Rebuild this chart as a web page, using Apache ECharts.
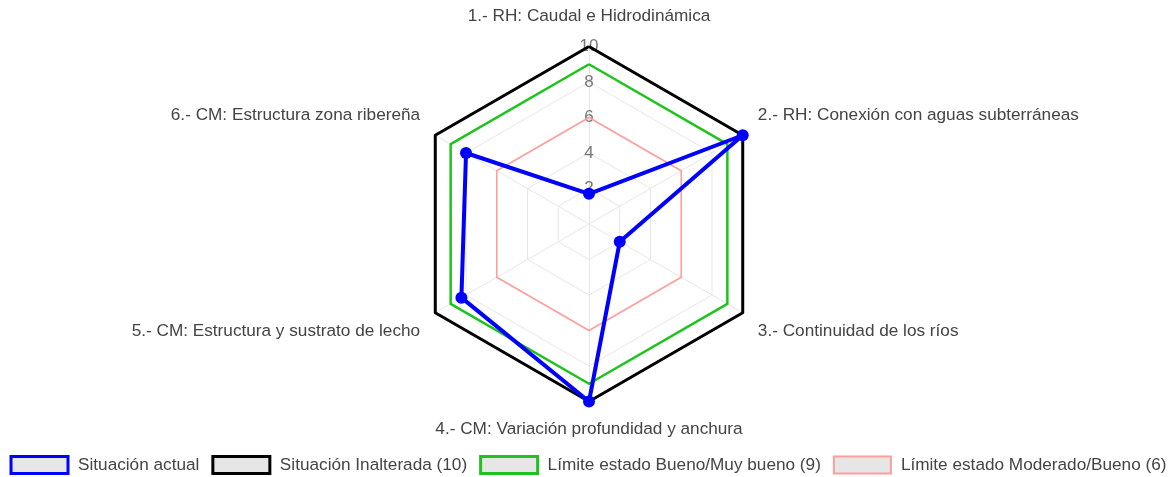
<!DOCTYPE html>
<html>
<head>
<meta charset="utf-8">
<script src="https://cdn.jsdelivr.net/npm/echarts@6/dist/echarts.min.js"></script>
<style>
    html, body { margin: 0; padding: 0; background: #fff; }
    #radar_chart { width: 1176px; height: 477px; }
</style>
</head>
<body>
<div id="radar_chart"></div>
<script>
// 指标
var indicators = [
    '1.- RH: Caudal e Hidrodinámica',
    '2.- RH: Conexión con aguas subterráneas',
    '3.- Continuidad de los ríos',
    '4.- CM: Variación profundidad y anchura',
    '5.- CM: Estructura y sustrato de lecho',
    '6.- CM: Estructura zona ribereña'
];
// 数据
var actual = [1.7, 10, 2, 10, 8.3, 8];
var inalterada = [10, 10, 10, 10, 10, 10];
var buenoMuyBueno = [9, 9, 9, 9, 9, 9];
var moderadoBueno = [6, 6, 6, 6, 6, 6];
var seriesNames = [
    'Situación actual',
    'Situación Inalterada (10)',
    'Límite estado Bueno/Muy bueno (9)',
    'Límite estado Moderado/Bueno (6)'
];
var colors = ['#0000ff', '#000000', '#1ec31e', '#ff9c9c'];

var myChart = echarts.init(document.getElementById('radar_chart'));

// echarts 逆时针, 原图顺时针 -> 调整顺序
var order = [0, 5, 4, 3, 2, 1];
// 标签位置: 上/下/上侧/下侧
var nameStyle = ['t', 'u', 'd', 'b', 'd', 'u'];

var indicatorList = order.map(function(k, i) {
    var ind = { name: indicators[k], max: 10, min: 0 };
    if (i === 0) {
        ind.axisLabel = {
            show: true,
            showMinLabel: false,
            color: '#777',
            fontSize: 17,
            fontFamily: 'Liberation Sans, Arial',
            margin: 0,
            align: 'center',
            verticalAlign: 'middle'
        };
    }
    return ind;
});

function reorder(arr) {
    return order.map(function(k) { return arr[k]; });
}

var legendData = seriesNames.map(function(n, i) {
    return {
        name: n,
        icon: 'rect',
        itemStyle: { color: '#e6e6e6', borderColor: colors[i], borderWidth: i === 3 ? 2 : 3 }
    };
});

var widths = [4, 3, 2.5, 1.5];
var values = [actual, inalterada, buenoMuyBueno, moderadoBueno];
var seriesData = [];
// 从后往前画, 蓝线在最上面
for (var i = 3; i >= 0; i--) {
    seriesData.push({
        name: seriesNames[i],
        value: reorder(values[i]),
        symbol: i === 0 ? 'circle' : 'none',
        symbolSize: 12,
        itemStyle: { color: colors[i] },
        lineStyle: { color: colors[i], width: widths[i] }
    });
}

var option = {
    animation: false,
    legend: {
        data: legendData,
        left: 'center',
        top: 455,
        padding: 0,
        itemWidth: 57,
        itemHeight: 17,
        itemGap: 12,
        textStyle: {
            color: '#444',
            fontSize: 17.2,
            fontFamily: 'Liberation Sans, Arial',
            padding: [0, 0, 0, 5]
        }
    },
    radar: {
        center: [589, 224],
        radius: 177.5,
        shape: 'polygon',
        splitNumber: 5,
        nameGap: 17.5,
        indicator: indicatorList,
        axisName: {
            color: '#444',
            fontSize: 17.2,
            fontFamily: 'Liberation Sans, Arial',
            formatter: function(name, ind) {
                var k = indicators.indexOf(name);
                return '{' + nameStyle[k] + '|' + name + '}';
            },
            rich: {
                t: { padding: [0, 0, 4, 0] },
                b: { padding: [2, 0, 0, 0] },
                u: { padding: [0, 0, 23, 0] },
                d: { padding: [20, 0, 0, 0] }
            }
        },
        axisLabel: { show: false },
        axisLine: { lineStyle: { color: '#e6e6e6', width: 1 } },
        splitLine: { lineStyle: { color: '#e6e6e6', width: 1 } },
        splitArea: { show: false }
    },
    series: [{
        type: 'radar',
        data: seriesData
    }]
};
myChart.setOption(option);
</script>
</body>
</html>
